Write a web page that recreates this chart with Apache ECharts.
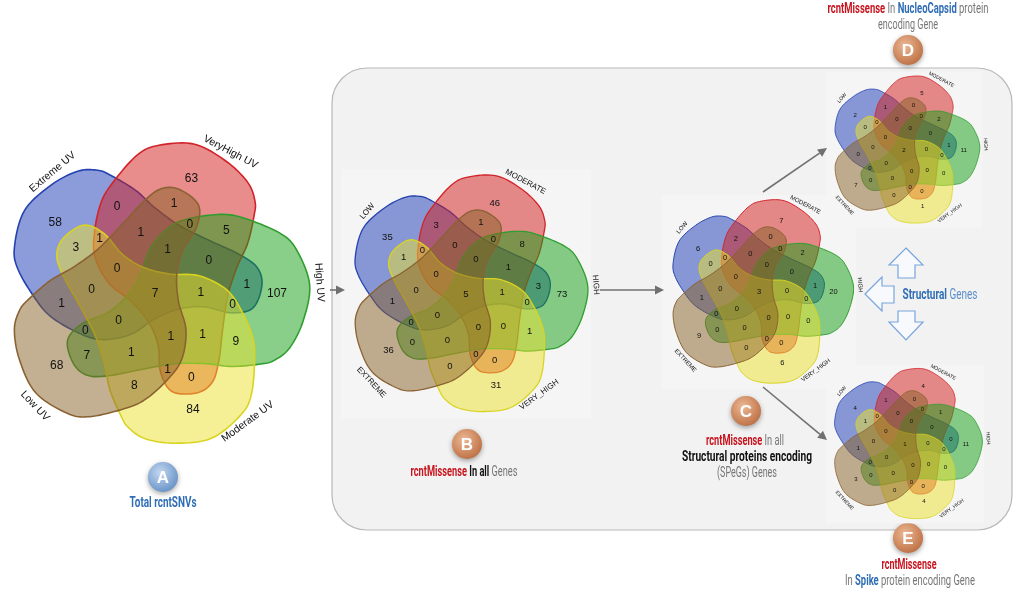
<!DOCTYPE html>
<html>
<head>
<meta charset="utf-8">
<title>rcntSNVs Venn panels</title>
<script src="https://cdn.jsdelivr.net/npm/echarts@6.0.0/dist/echarts.min.js"></script>
<style>
	html, body {
		width: 100%;
		height: 100%;
		margin: 0;
		padding: 0;
		background: #fff;
	}
	#main {
		width: 1021px;
		height: 590px;
	}
</style>
</head>
<body>
<div id="main"></div>
<script>
// set names
var setsA = ['Extreme UV', 'VeryHigh UV', 'High UV', 'Moderate UV', 'Low UV'];
var setsB = ['LOW', 'MODERATE', 'HIGH', 'VERY_HIGH', 'EXTREME'];

// region keys = indices of the sets the region belongs to; all count arrays follow this order
var regions = ['0', '1', '2', '3', '4',
	'01', '12', '23', '34', '04',
	'14', '02', '13', '24', '03',
	'014', '012', '123', '234', '034',
	'013', '124', '023', '134', '024',
	'0124', '0123', '1234', '0234', '0134',
	'01234'];

var countsA = [58, 63, 107, 84, 68, 0, 5, 9, 8, 1, 1, 1, 0, 7, 3, 1, 0, 1, 1, 0, 1, 0, 0, 1, 0, 1, 1, 1, 0, 0, 7];
var countsB = [35, 46, 73, 31, 36, 3, 8, 1, 0, 1, 1, 3, 0, 0, 1, 0, 1, 0, 0, 0, 0, 0, 0, 0, 0, 0, 1, 0, 0, 0, 5];
var countsC = [6, 7, 20, 6, 9, 2, 2, 0, 0, 1, 0, 1, 0, 0, 0, 0, 0, 0, 0, 0, 0, 0, 0, 0, 0, 0, 0, 0, 0, 0, 3];
var countsD = [2, 5, 11, 1, 7, 1, 2, 0, 0, 0, 0, 1, 0, 0, 0, 0, 0, 0, 0, 0, 0, 0, 0, 0, 0, 0, 0, 0, 0, 0, 2];
var countsE = [4, 4, 11, 4, 3, 1, 1, 0, 0, 1, 0, 0, 0, 0, 1, 0, 0, 0, 0, 0, 0, 0, 0, 0, 0, 0, 0, 0, 0, 0, 1];

// ---- shape of one set (lobe + arm), traced in px of panel A around its centre, y up ----
var PX = 160;
var petal = [[108, 9], [103, 27], [85, 40], [55, 54], [25, 69], [0, 87], [-20, 105], [-45, 120],
	[-58, 125], [-78, 124], [-105, 110], [-132, 84], [-142, 47], [-138, 24], [-120, -6], [-105, -23],
	[-80, -38], [-55, -46], [-25, -41], [0, -25], [25, -15], [50, -13], [77, -19], [99, -14]];

function smoothClosed(pts, steps) {
	var out = [], n = pts.length;
	for (var i = 0; i < n; i++) {
		var p0 = pts[(i - 1 + n) % n], p1 = pts[i], p2 = pts[(i + 1) % n], p3 = pts[(i + 2) % n];
		for (var s = 0; s < steps; s++) {
			var t = s / steps, t2 = t * t, t3 = t2 * t;
			out.push([0, 1].map(function (d) {
				return 0.5 * (2 * p1[d] + (p2[d] - p0[d]) * t + (2 * p0[d] - 5 * p1[d] + 4 * p2[d] - p3[d]) * t2 + (3 * p1[d] - p0[d] - 3 * p2[d] + p3[d]) * t3);
			}));
		}
	}
	return out;
}
var base = smoothClosed(petal.map(function (p) { return [p[0] / PX, p[1] / PX]; }), 10);
var shapes = [0, 1, 2, 3, 4].map(function (k) {
	var a = -72 * k * Math.PI / 180, c = Math.cos(a), s = Math.sin(a);
	return base.map(function (p) { return [p[0] * c - p[1] * s, p[0] * s + p[1] * c]; });
});

function inside(poly, x, y) {
	var ins = false;
	for (var i = 0, j = poly.length - 1; i < poly.length; j = i++) {
		var xi = poly[i][0], yi = poly[i][1], xj = poly[j][0], yj = poly[j][1];
		if ((yi > y) != (yj > y) && x < (xj - xi) * (y - yi) / (yj - yi) + xi) ins = !ins;
	}
	return ins;
}

// ---- where to put each region's count: well inside the region, as near its centroid as possible ----
var G = 0.01, N = 241, X0 = -1.2;
var mask = new Uint8Array(N * N);
for (var j = 0; j < N; j++) {
	for (var i = 0; i < N; i++) {
		var m = 0;
		for (var k = 0; k < 5; k++) if (inside(shapes[k], X0 + i * G, X0 + j * G)) m |= 1 << k;
		mask[j * N + i] = m;
	}
}
var dist = new Float32Array(N * N);
for (var j = 0; j < N; j++) {
	for (var i = 0; i < N; i++) {
		var id = j * N + i, m = mask[id];
		if (!m || i == 0 || j == 0 || i == N - 1 || j == N - 1 ||
			mask[id - 1] != m || mask[id + 1] != m || mask[id - N] != m || mask[id + N] != m) dist[id] = 0;
		else dist[id] = 1e9;
	}
}
for (var j = 1; j < N - 1; j++) for (var i = 1; i < N - 1; i++) {
	var id = j * N + i;
	dist[id] = Math.min(dist[id], dist[id - 1] + 1, dist[id - N] + 1, dist[id - N - 1] + 1.414, dist[id - N + 1] + 1.414);
}
for (var j = N - 2; j > 0; j--) for (var i = N - 2; i > 0; i--) {
	var id = j * N + i;
	dist[id] = Math.min(dist[id], dist[id + 1] + 1, dist[id + N] + 1, dist[id + N + 1] + 1.414, dist[id + N - 1] + 1.414);
}
function keyOf(m) {
	var key = '';
	for (var k = 0; k < 5; k++) if (m & (1 << k)) key += k;
	return key;
}
var stat = {};
for (var id = 0; id < N * N; id++) {
	if (!mask[id]) continue;
	var key = keyOf(mask[id]), st = stat[key] || (stat[key] = {n: 0, sx: 0, sy: 0, dmax: 0});
	st.n++; st.sx += id % N; st.sy += Math.floor(id / N); st.dmax = Math.max(st.dmax, dist[id]);
}
var best = {};
for (var id = 0; id < N * N; id++) {
	if (!mask[id]) continue;
	var key = keyOf(mask[id]), st = stat[key];
	if (dist[id] < 0.6 * st.dmax) continue;
	var gx = id % N, gy = Math.floor(id / N);
	var dc = Math.pow(gx - st.sx / st.n, 2) + Math.pow(gy - st.sy / st.n, 2);
	if (!best[key] || dc < best[key].dc) best[key] = {dc: dc, x: X0 + gx * G, y: X0 + gy * G};
}

// ---- styling ----
var fills = ['rgba(25,55,180,0.5)', 'rgba(210,25,25,0.5)', 'rgba(20,160,20,0.5)', 'rgba(235,225,45,0.5)', 'rgba(135,95,35,0.5)'];
var strokes = ['#2342b0', '#d2232a', '#2f9e2f', '#d9d421', '#8a6232'];
var sans = 'Liberation Sans, Arial, sans-serif';
var capFont = 'Roboto, sans-serif';

var panels = [
	{cx: 155, cy: 294, s: 0.99, names: setsA, counts: countsA, num: 12, lab: 10.5, lw: 1.6, ang: [130, 62, 4, -54, -137]},
	{cx: 466, cy: 294, s: 0.78, names: setsB, counts: countsB, num: 9.5, lab: 8, lw: 1.3, ang: [140, 62, 4, -54, -137]},
	{cx: 759, cy: 292, s: 0.605, names: setsB, counts: countsC, num: 7.5, lab: 6, lw: 1, ang: [140, 62, 4, -54, -137]},
	{cx: 904, cy: 150, s: 0.485, names: setsB, counts: countsD, num: 6, lab: 5, lw: 0.8, ang: [140, 62, 4, -54, -137]},
	{cx: 905, cy: 444, s: 0.495, names: setsB, counts: countsE, num: 6, lab: 5, lw: 0.8, ang: [140, 62, 4, -54, -137]}
];

var option = {
	animation: false,
	backgroundColor: '#ffffff',
	grid: [], xAxis: [], yAxis: [], series: []
};
var tiles = [];

panels.forEach(function (p, pi) {
	var half = 1.2 * PX * p.s;
	option.grid.push({left: p.cx - half, top: p.cy - half, width: 2 * half, height: 2 * half, show: false, outerBoundsMode: 'none', containLabel: false});
	option.xAxis.push({gridIndex: pi, type: 'value', min: -1.2, max: 1.2, show: false});
	option.yAxis.push({gridIndex: pi, type: 'value', min: -1.2, max: 1.2, show: false});
	if (pi > 0) {
		var t = PX * p.s;
		tiles.push({type: 'rect', z: 1, shape: {x: p.cx - t, y: p.cy - t, width: 2 * t, height: 2 * t}, style: {fill: '#f5f5f5'}});
	}

	option.series.push({
		type: 'custom', xAxisIndex: pi, yAxisIndex: pi, clip: false, silent: true, z: 5,
		data: [0, 1, 2, 3, 4].map(function (k) { return [0, 0, k]; }),
		renderItem: function (params, api) {
			var k = api.value(2);
			return {
				type: 'polygon',
				shape: {points: shapes[k].map(function (q) { return api.coord(q); })},
				style: {fill: fills[k], stroke: strokes[k], lineWidth: p.lw}
			};
		}
	});

	option.series.push({
		type: 'custom', xAxisIndex: pi, yAxisIndex: pi, clip: false, silent: true, z: 6,
		data: regions.filter(function (r) { return best[r]; }).map(function (r) {
			return [best[r].x, best[r].y, p.counts[regions.indexOf(r)]];
		}),
		renderItem: function (params, api) {
			var c = api.coord([api.value(0), api.value(1)]);
			return {
				type: 'text',
				style: {x: c[0], y: c[1], text: String(api.value(2)), fill: '#111', fontSize: p.num, fontFamily: sans, align: 'center', verticalAlign: 'middle'}
			};
		}
	});

	var pad = (p.lab * 0.8 + 2) / (PX * p.s);
	option.series.push({
		type: 'custom', xAxisIndex: pi, yAxisIndex: pi, clip: false, silent: true, z: 6,
		data: p.ang.map(function (deg, k) {
			var a = deg * Math.PI / 180, r = 1.35;
			while (r > 0 && !inside(shapes[k], r * Math.cos(a), r * Math.sin(a))) r -= 0.005;
			r += pad;
			var rot = (deg > -10 && deg < 180) ? deg - 90 : deg + 90;
			return [r * Math.cos(a), r * Math.sin(a), rot, k];
		}),
		renderItem: function (params, api) {
			var c = api.coord([api.value(0), api.value(1)]);
			return {
				type: 'text', x: c[0], y: c[1], rotation: api.value(2) * Math.PI / 180,
				style: {x: 0, y: 0, text: p.names[api.value(3)], fill: '#111', fontSize: p.lab, fontFamily: sans, align: 'center', verticalAlign: 'middle'}
			};
		}
	});
});

// ---- decoration: frame, arrows, badges, captions ----
function arrow(x1, y1, x2, y2) {
	var a = Math.atan2(y2 - y1, x2 - x1), L = 9, W = 4.5;
	var bx = x2 - L * Math.cos(a), by = y2 - L * Math.sin(a);
	return [
		{type: 'line', z: 3, shape: {x1: x1, y1: y1, x2: bx, y2: by}, style: {stroke: '#707070', lineWidth: 1.6}},
		{type: 'polygon', z: 3, shape: {points: [[x2, y2], [bx - W * Math.sin(a), by + W * Math.cos(a)], [bx + W * Math.sin(a), by - W * Math.cos(a)]]}, style: {fill: '#707070'}}
	];
}
function badge(x, y, letter, c0, c1) {
	return {
		type: 'group', x: x, y: y, z: 20, children: [
			{type: 'circle', shape: {cx: 0, cy: 0, r: 15}, style: {
				fill: new echarts.graphic.RadialGradient(0.4, 0.35, 0.75, [{offset: 0, color: c0}, {offset: 1, color: c1}]),
				shadowBlur: 5, shadowOffsetY: 2, shadowColor: 'rgba(0,0,0,0.35)'}},
			{type: 'text', style: {text: letter, x: 0, y: 1, align: 'center', verticalAlign: 'middle', fill: '#fff', fontSize: 17, fontWeight: 'bold', fontFamily: sans}}
		]
	};
}
var rich = {
	r: {fill: '#c8141e', color: '#c8141e', fontSize: 14, fontFamily: capFont, fontWeight: 'bold'},
	k: {fill: '#111', color: '#111', fontSize: 14, fontFamily: capFont, fontWeight: 'bold'},
	g: {fill: '#777', color: '#777', fontSize: 14, fontFamily: capFont},
	b: {fill: '#2f6db5', color: '#2f6db5', fontSize: 14, fontFamily: capFont, fontWeight: 'bold'},
	lb: {fill: '#5b8fcc', color: '#5b8fcc', fontSize: 14, fontFamily: capFont}
};
// condensed look: squeeze each caption to the width it has in the figure
var mctx = document.createElement('canvas').getContext('2d');
function richWidth(text) {
	var w = 0;
	text.replace(/\{(\w+)\|([^}]*)\}|([^{]+)/g, function (all, st, t, plain) {
		var sty = st ? rich[st] : {fontSize: 14};
		mctx.font = (sty.fontWeight || 'normal') + ' ' + sty.fontSize + 'px ' + capFont;
		w += mctx.measureText(st ? t : plain).width;
		return all;
	});
	return w;
}
function caption(x, y, text, width) {
	return {type: 'text', x: x, y: y, z: 20, scaleX: width / richWidth(text),
		style: {x: 0, y: 0, text: text, rich: rich, align: 'center', verticalAlign: 'middle', fontSize: 14, fontFamily: capFont}};
}
var outline = 'rgba(120,165,220,1)';
var elements = [
	{type: 'rect', z: 0, shape: {x: 332, y: 68, width: 680, height: 462, r: 35}, style: {fill: '#f2f2f2', stroke: '#b8b8b8', lineWidth: 1.2}}
].concat(tiles).concat([
	{type: 'polygon', z: 3, shape: {points: [[906, 248], [923, 265], [915, 265], [915, 278], [898, 278], [898, 265], [889, 265]]}, style: {fill: '#f7f9fc', stroke: outline, lineWidth: 1.2}},
	{type: 'polygon', z: 3, shape: {points: [[865, 294], [882, 277], [882, 286], [894, 286], [894, 303], [882, 303], [882, 311]]}, style: {fill: '#f7f9fc', stroke: outline, lineWidth: 1.2}},
	{type: 'polygon', z: 3, shape: {points: [[898, 311], [915, 311], [915, 322], [923, 322], [906, 340], [889, 322], [898, 322]]}, style: {fill: '#f7f9fc', stroke: outline, lineWidth: 1.2}},
	caption(940, 295, '{b|Structural} {lb|Genes}', 75),
	badge(163, 477, 'A', '#c3d7ef', '#5f8cc4'),
	badge(467, 444, 'B', '#ecb894', '#b9693c'),
	badge(746, 411, 'C', '#ecb894', '#b9693c'),
	badge(908, 50, 'D', '#ecb894', '#b9693c'),
	badge(908, 538, 'E', '#ecb894', '#b9693c'),
	caption(163, 503, '{b|Total rcntSNVs}', 67),
	caption(464, 472, '{r|rcntMissense} {k|In all} {g|Genes}', 107),
	caption(745, 441, '{r|rcntMissense} {g|In all}', 78),
	caption(747, 457, '{k|Structural proteins encoding}', 130),
	caption(747, 473, '{g|(SPeGs) Genes}', 60),
	caption(908, 9, '{r|rcntMissense} {g|In} {b|NucleoCapsid} {g|protein}', 161),
	caption(908, 25, '{g|encoding Gene}', 60),
	caption(909, 565, '{r|rcntMissense}', 55),
	caption(910, 581, '{g|In} {b|Spike} {g|protein encoding Gene}', 130)
]);
[[330, 290, 345, 290], [600, 290, 664, 290], [763, 192, 827, 148], [763, 387, 827, 440]].forEach(function (a) {
	elements = elements.concat(arrow(a[0], a[1], a[2], a[3]));
});
option.graphic = {elements: elements};

echarts.init(document.getElementById('main')).setOption(option);
</script>
</body>
</html>
